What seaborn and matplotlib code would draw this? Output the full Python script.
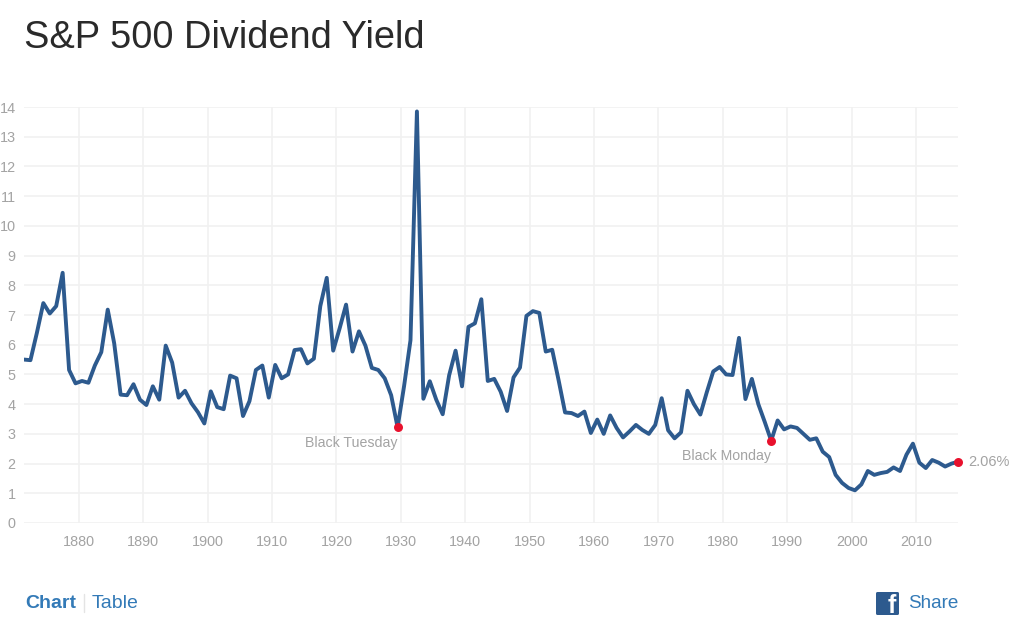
import matplotlib
matplotlib.use('Agg')
import matplotlib.pyplot as plt
from matplotlib.patches import FancyBboxPatch
import numpy as np
import pandas as pd
import seaborn as sns

years = list(range(1871, 2017))
dividend_yield = [
    5.50, 5.48, 6.40, 7.40, 7.05, 7.30, 8.42, 5.15, 4.70,
    4.78, 4.72, 5.30, 5.75, 7.18, 6.05, 4.32, 4.30, 4.67, 4.15,
    3.97, 4.60, 4.15, 5.97, 5.40, 4.22, 4.45, 4.03, 3.73, 3.35,
    4.43, 3.90, 3.83, 4.96, 4.87, 3.60, 4.10, 5.15, 5.30, 4.22,
    5.32, 4.87, 5.00, 5.82, 5.85, 5.37, 5.53, 7.30, 8.25, 5.80,
    6.55, 7.35, 5.77, 6.45, 5.97, 5.22, 5.15, 4.87, 4.30, 3.22,
    4.60, 6.15, 13.85, 4.18, 4.77, 4.15, 3.66, 4.97, 5.80, 4.60,
    6.60, 6.72, 7.53, 4.78, 4.85, 4.42, 3.77, 4.90, 5.23, 6.97,
    7.13, 7.07, 5.77, 5.83, 4.80, 3.72, 3.70, 3.60, 3.75, 3.03,
    3.48, 3.00, 3.62, 3.20, 2.88, 3.08, 3.30, 3.13, 3.00, 3.30,
    4.20, 3.12, 2.85, 3.05, 4.45, 4.00, 3.65, 4.40, 5.10, 5.25,
    5.00, 4.98, 6.23, 4.17, 4.85, 4.00, 3.40, 2.77, 3.45, 3.15,
    3.25, 3.20, 3.00, 2.80, 2.85, 2.40, 2.22, 1.62, 1.35, 1.18,
    1.10, 1.30, 1.75, 1.62, 1.68, 1.72, 1.87, 1.75, 2.30, 2.67,
    2.03, 1.85, 2.12, 2.03, 1.90, 2.00, 2.06,
]
marked_years = [1929, 1987, 2016]
x_ticks = [1880, 1890, 1900, 1910, 1920, 1930, 1940, 1950, 1960, 1970, 1980, 1990, 2000, 2010]
y_ticks = list(range(0, 15))

LINE = '#2d5a8e'
RED = '#e8112d'
GRAY = '#a3a3a3'
BLUE = '#337ab7'
W, H = 1024, 624

sns.set_theme(style='white')
plt.rcParams['font.family'] = ['Liberation Sans', 'DejaVu Sans']

df = pd.DataFrame({'year': years, 'value': dividend_yield})
df['x'] = df['year'] + 0.5  # points sit mid-year

fig = plt.figure(figsize=(W / 100, H / 100), dpi=100, facecolor='white')
ax = fig.add_axes([24 / W, 1 - 523 / H, (958 - 24) / W, (523 - 107) / H])

sns.lineplot(data=df, x='x', y='value', color=LINE, linewidth=2.8, ax=ax, zorder=3)
dots = df[df['year'].isin(marked_years)]
sns.scatterplot(data=dots, x='x', y='value', color=RED, s=42, linewidth=0, ax=ax, zorder=4, clip_on=False)

ax.set_xlim(1871.5, 2016.5)
ax.set_ylim(0, 14)
ax.set_xticks(x_ticks)
ax.set_yticks(y_ticks)
ax.set_xlabel('')
ax.set_ylabel('')
ax.grid(True, color='#f1f1f1', linewidth=1.2)
ax.set_axisbelow(True)
sns.despine(ax=ax, left=True, bottom=True)
ax.tick_params(axis='x', labelsize=10.4, colors=GRAY, length=0, pad=8.5)
ax.tick_params(axis='y', labelsize=10.4, colors=GRAY, length=0, pad=6)

ax.annotate('Black Tuesday', (1929.5, 3.22), xytext=(0, -9), textcoords='offset pixels',
            ha='right', va='top', fontsize=10.2, color=GRAY)
ax.annotate('Black Monday', (1987.5, 2.77), xytext=(0, -8), textcoords='offset pixels',
            ha='right', va='top', fontsize=10.2, color=GRAY)
ax.annotate('2.06%', (2016.5, 2.06), xytext=(10, 0), textcoords='offset pixels',
            ha='left', va='center', fontsize=10.5, color=GRAY, annotation_clip=False)

fig.text(24 / W, 1 - 38 / H, 'S&P 500 Dividend Yield', fontsize=27.4, color='#2a2a2a', va='center', ha='left')
fig.text(25 / W, 1 - 604 / H, 'Chart', fontsize=14, fontweight='bold', color=BLUE, va='center', ha='left')
fig.text(92 / W, 1 - 604 / H, 'Table', fontsize=14, color=BLUE, va='center', ha='left')
fig.add_artist(plt.Line2D([83.5 / W, 83.5 / W], [1 - 594 / H, 1 - 612 / H], color='#e4e4e4', linewidth=1))
fig.text(908 / W, 1 - 604 / H, 'Share', fontsize=13.6, color=BLUE, va='center', ha='left')

# facebook badge
badge = FancyBboxPatch((876, H - 615), 23, 23, boxstyle='round,pad=0,rounding_size=1.5',
                       transform=None, facecolor='#2d5a8e', edgecolor='none')
fig.add_artist(badge)
fig.text(892 / W, 1 - 606 / H, 'f', fontsize=18, fontweight='bold', color='white', va='center', ha='center')

fig.savefig('out.png', dpi=100, facecolor='white')
